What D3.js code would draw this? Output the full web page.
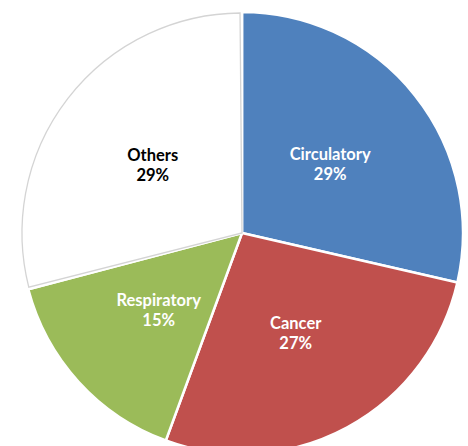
<!DOCTYPE html>
<html>
<head>
<meta charset="utf-8">
<script src="https://cdn.jsdelivr.net/npm/d3@7"></script>
<style>
  html, body { margin: 0; padding: 0; background: #ffffff; }
  svg { display: block; }
</style>
</head>
<body>
<div id="chart"></div>
<script>
const categories = ["Circulatory", "Cancer", "Respiratory", "Others"];
const values = [28.6, 27.0, 15.3, 29.1];
const colors = ["#4F81BD", "#C0504D", "#9BBB59", "#FFFFFF"];
const textColors = ["#FFFFFF", "#FFFFFF", "#FFFFFF", "#000000"];

const W = 468, H = 446;
const cx = 242, cy = 233, R = 221;

const svg = d3.select("#chart").append("svg")
  .attr("width", W).attr("height", H);

const g = svg.append("g").attr("transform", `translate(${cx},${cy})`);

const data = categories.map((c, i) => ({ name: c, value: values[i], color: colors[i], text: textColors[i] }));
const total = d3.sum(values);

const pie = d3.pie().value(d => d.value).sort(null);
const arcs = pie(data);

const arc = d3.arc().innerRadius(0).outerRadius(R);
const labelArc = d3.arc().innerRadius(R * 0.51).outerRadius(R * 0.51);

const othersArcs = arcs.filter(a => a.data.name === "Others");
g.selectAll("path.fill")
  .data(arcs)
  .join("path")
  .attr("class", "fill")
  .attr("d", arc)
  .attr("fill", d => d.data.color)
  .attr("stroke", "#FFFFFF")
  .attr("stroke-width", 2.5)
  .attr("stroke-linejoin", "round");

const outlineArc = d3.arc().innerRadius(0).outerRadius(R - 1);
g.selectAll("path.outline")
  .data(othersArcs)
  .join("path")
  .attr("class", "outline")
  .attr("d", d => outlineArc({ startAngle: d.startAngle + 0.009, endAngle: d.endAngle - 0.009 }))
  .attr("fill", "none")
  .attr("stroke", "#D4D4D4")
  .attr("stroke-width", 1.3);

const fmt = d3.format(".0%");
const labels = g.selectAll("text.lbl")
  .data(arcs)
  .join("text")
  .attr("class", "lbl")
  .attr("transform", d => `translate(${labelArc.centroid(d)})`)
  .attr("text-anchor", "middle")
  .attr("font-family", "Lato, 'Open Sans', sans-serif")
  .attr("font-weight", "bold")
  .attr("font-size", 16.5)
  .attr("fill", d => d.data.text);

labels.append("tspan").attr("x", 0).attr("y", -3).text(d => d.data.name);
labels.append("tspan").attr("x", 0).attr("y", 17).text(d => fmt(d.data.value / total));
</script>
</body>
</html>
